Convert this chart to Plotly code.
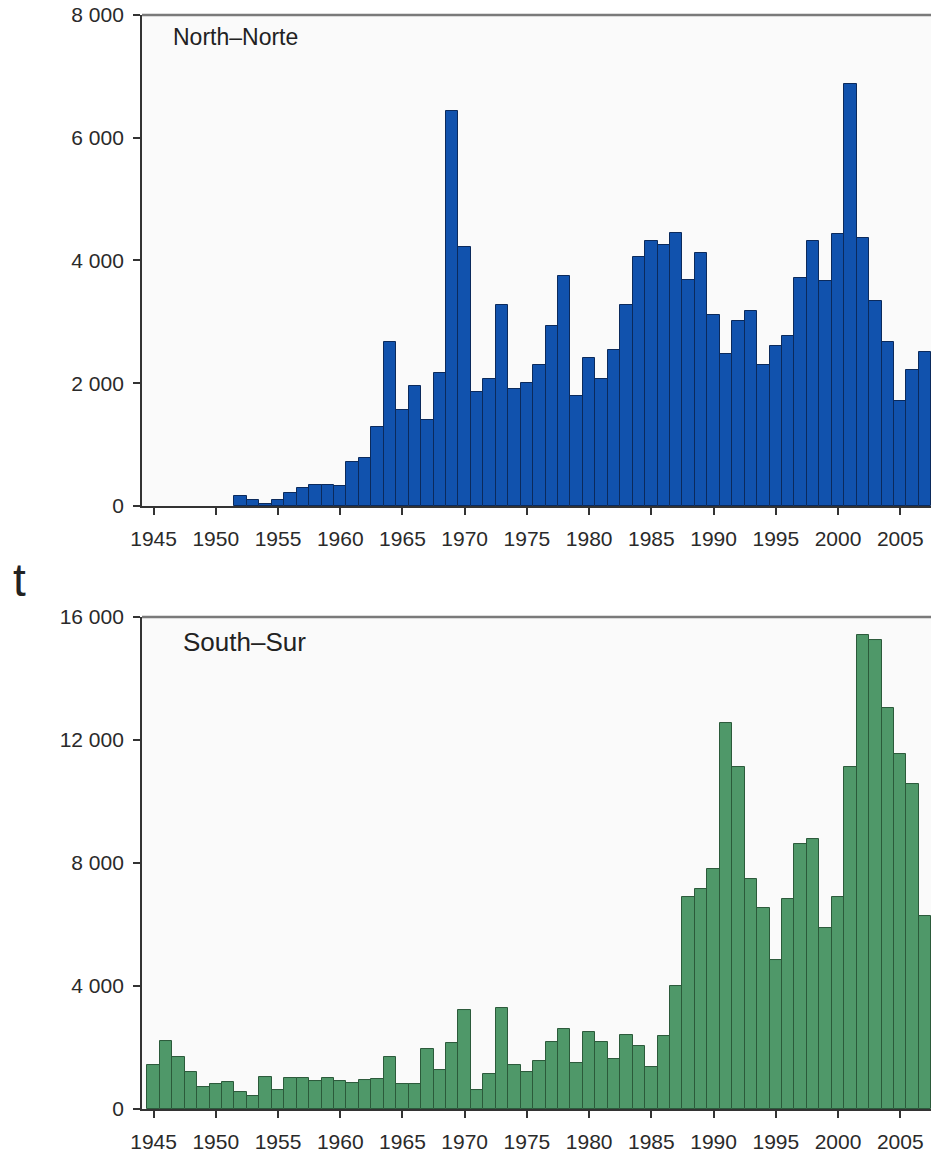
import plotly.graph_objects as go

# ---- data ----
north_years = list(range(1952, 2008))
north_values = [170, 100, 40, 90, 210, 300, 345, 345, 320, 710,
                780, 1290, 2670, 1570, 1960, 1400, 2170, 6440, 4220, 1850,
                2070, 3280, 1900, 2010, 2300, 2940, 3750, 1790, 2410, 2070,
                2540, 3280, 4060, 4310, 4260, 4450, 3690, 4120, 3110, 2480,
                3010, 3180, 2300, 2600, 2770, 3720, 4310, 3660, 4430, 6880,
                4360, 3340, 2680, 1710, 2210, 2510]

south_years = list(range(1945, 2008))
south_values = [1430, 2210, 1690, 1200, 700, 810, 890, 560, 430, 1050,
                620, 1010, 1010, 900, 1010, 900, 840, 930, 990, 1690,
                810, 810, 1940, 1260, 2130, 3230, 620, 1130, 3290, 1430,
                1200, 1570, 2190, 2610, 1490, 2500, 2190, 1630, 2420, 2060,
                1360, 2360, 3990, 6910, 7150, 7790, 12550, 11120, 7470, 6530,
                4860, 6830, 8630, 8770, 5900, 6890, 11120, 15420, 15250, 13050,
                11560, 10570, 6280]

x_ticks = [1945, 1950, 1955, 1960, 1965, 1970, 1975, 1980, 1985, 1990, 1995, 2000, 2005]
north_yticks = [0, 2000, 4000, 6000, 8000]
north_ytext = ["0", "2 000", "4 000", "6 000", "8 000"]
south_yticks = [0, 4000, 8000, 12000, 16000]
south_ytext = ["0", "4 000", "8 000", "12 000", "16 000"]

north_label = "North–Norte"
south_label = "South–Sur"
unit_label = "t"

FONT = "Liberation Sans, Arial, sans-serif"
TXT = "#2a2a2a"

fig = go.Figure()
fig.add_trace(go.Bar(x=north_years, y=north_values, width=1,
                     marker=dict(color="#1152ad", line=dict(color="#0b2a5c", width=1)),
                     xaxis="x", yaxis="y", showlegend=False))
fig.add_trace(go.Bar(x=south_years, y=south_values, width=1,
                     marker=dict(color="#4f9869", line=dict(color="#2b5a3a", width=1)),
                     xaxis="x2", yaxis="y2", showlegend=False))

xcommon = dict(range=[1944.07, 2007.47], tickmode="array", tickvals=x_ticks,
               ticks="outside", ticklen=7, tickwidth=1.5, tickcolor="#333",
               showline=True, linecolor="#333", linewidth=1.8, showgrid=False,
               zeroline=False, automargin=False, ticklabelstandoff=6,
               tickfont=dict(family=FONT, size=21, color=TXT))
ycommon = dict(ticks="outside", ticklen=7, tickwidth=1.5, tickcolor="#333",
               showline=True, linecolor="#333", linewidth=1.8, showgrid=False,
               zeroline=False, automargin=False, tickmode="array",
               ticklabelstandoff=5,
               tickfont=dict(family=FONT, size=21, color=TXT))

fig.update_layout(
    width=933, height=1153,
    margin=dict(l=142, r=2, t=15, b=44),
    paper_bgcolor="white", plot_bgcolor="#fafafa",
    bargap=0,
    xaxis=dict(**xcommon, domain=[0, 1], anchor="y"),
    yaxis=dict(**ycommon, domain=[0.5512, 1], range=[0, 8000],
               tickvals=north_yticks, ticktext=north_ytext, anchor="x"),
    xaxis2=dict(**xcommon, domain=[0, 1], anchor="y2"),
    yaxis2=dict(**ycommon, domain=[0, 0.4497], range=[0, 16000],
                tickvals=south_yticks, ticktext=south_ytext, anchor="x2"),
)

# top frame lines
for xr, yr in (("x domain", "y domain"), ("x2 domain", "y2 domain")):
    fig.add_shape(type="line", xref=xr, yref=yr, x0=0, x1=1, y0=1, y1=1,
                  line=dict(color="#7a7a7a", width=2.5))

fig.add_annotation(xref="x domain", yref="y domain", x=0.037, y=0.955,
                   xanchor="left", yanchor="middle", showarrow=False,
                   text=north_label, font=dict(family=FONT, size=23, color="#222"))
fig.add_annotation(xref="x2 domain", yref="y2 domain", x=0.049, y=0.95,
                   xanchor="left", yanchor="middle", showarrow=False,
                   text=south_label, font=dict(family=FONT, size=26, color="#222"))
fig.add_annotation(xref="paper", yref="paper", x=-0.166, y=0.4835,
                   xanchor="left", yanchor="middle", showarrow=False,
                   text=unit_label, font=dict(family=FONT, size=46, color="#222"))

fig.write_html("out.html", config={"displayModeBar": False},
               post_script="document.body.style.margin='0';")
